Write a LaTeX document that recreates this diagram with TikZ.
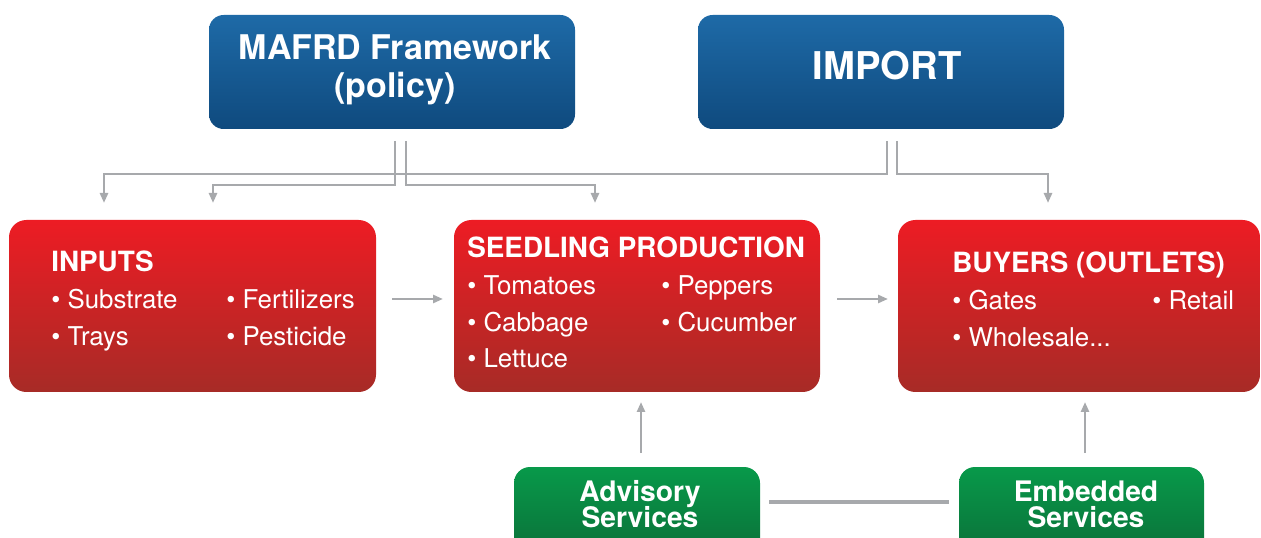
\documentclass[tikz,border=0pt]{standalone}
\usepackage{fontspec}
\setmainfont{TeX Gyre Heros}
\usetikzlibrary{arrows.meta,calc}

\definecolor{blueTop}{HTML}{1E6AA7}
\definecolor{blueBot}{HTML}{0F4A7E}
\definecolor{redTop}{HTML}{ED1C24}
\definecolor{redBot}{HTML}{A72B26}
\definecolor{greenTop}{HTML}{08994A}
\definecolor{greenBot}{HTML}{0B6534}
\definecolor{linkgray}{HTML}{A7A9AC}

\begin{document}
\begin{tikzpicture}[x=0.75pt,y=-0.75pt,
  panel/.style 2 args={rectangle, inner sep=0pt, outer sep=0pt,
    minimum width=#1*0.75pt, minimum height=#2*0.75pt},
  bluebox/.style={top color=blueTop, bottom color=blueBot, rounded corners=11pt},
  redbox/.style={top color=redTop, bottom color=redBot, rounded corners=13pt},
  greenbox/.style={top color=greenTop, bottom color=greenBot, rounded corners=12pt},
  head/.style={anchor=base west, inner sep=0pt, text=white,
    font=\fontsize{20.9}{24}\selectfont\bfseries},
  item/.style={anchor=base west, inner sep=0pt, text=white,
    font=\fontsize{19.4}{23}\selectfont},
  title/.style={anchor=base, inner sep=0pt, text=white,
    font=\fontsize{25.5}{30}\selectfont\bfseries},
  svc/.style={anchor=base, inner sep=0pt, text=white,
    font=\fontsize{21.2}{24}\selectfont\bfseries},
  link/.style={draw=linkgray, line width=1.9pt},
  conn/.style={link, -{Triangle[length=7.5pt,width=6pt]}},
]
\useasboundingbox (0,0) rectangle (1261,538);

% boxes
\node[panel={366}{114}, bluebox] (mafrd) at (392,72) {};
\node[panel={366}{114}, bluebox] (import) at (881,72) {};
\node[panel={367}{172}, redbox] (inputs) at (192.5,306) {};
\node[panel={366}{172}, redbox] (seedling) at (637,306) {};
\node[panel={362}{172}, redbox] (buyers) at (1079,306) {};
\node[panel={246}{113}, greenbox] (advisory) at (637,523.5) {};
\node[panel={245}{113}, greenbox] (embedded) at (1081.5,523.5) {};

% top boxes text
\node[title] (mafrdA) at (395,60) {MAFRD Framework};
\node[title] (mafrdB) at (395,98) {(policy)};
\node[title, font=\fontsize{28.7}{33}\selectfont\bfseries] (importT) at (887,80) {IMPORT};

% inputs
\node[head] (inputsH) at (51,272) {INPUTS};
\node[item] (in1) at (51,309) {• Substrate};
\node[item] (in2) at (226,309) {• Fertilizers};
\node[item] (in3) at (51,346) {• Trays};
\node[item] (in4) at (226,346) {• Pesticide};

% seedling production
\node[head] (seedH) at (467,258) {SEEDLING PRODUCTION};
\node[item] (sd1) at (467,295) {• Tomatoes};
\node[item] (sd2) at (661,295) {• Peppers};
\node[item] (sd3) at (467,332) {• Cabbage};
\node[item] (sd4) at (661,332) {• Cucumber};
\node[item] (sd5) at (467,368) {• Lettuce};

% buyers
\node[head] (buyH) at (952,273) {BUYERS (OUTLETS)};
\node[item] (by1) at (952,310) {• Gates};
\node[item] (by2) at (1152,310) {• Retail};
\node[item] (by3) at (952,347) {• Wholesale...};

% services
\node[svc] (advA) at (640,501) {Advisory};
\node[svc] (advB) at (640,527) {Services};
\node[svc] (embA) at (1086,501) {Embedded};
\node[svc] (embB) at (1086,527) {Services};

% connectors from IMPORT
\draw[conn] ($(import.south)+(6,12)$) |- ($(inputs.north west)+(95,-46)$)
  -- ($(inputs.north west)+(95,-17)$);
\draw[conn] ($(import.south)+(16,12)$) |- ($(buyers.north west)+(150,-46)$)
  -- ($(buyers.north west)+(150,-17)$);

% connectors from MAFRD
\draw[conn] ($(mafrd.south)+(3,12)$) |- ($(inputs.north west)+(204,-35)$)
  -- ($(inputs.north west)+(204,-17)$);
\draw[conn] ($(mafrd.south)+(14,12)$) |- ($(seedling.north west)+(141,-35)$)
  -- ($(seedling.north west)+(141,-17)$);

% flow between the red boxes
\draw[conn] ($(inputs.east)+(16,-7)$) -- ($(seedling.west)+(-11,-7)$);
\draw[conn] ($(seedling.east)+(17,-7)$) -- ($(buyers.west)+(-10,-7)$);

% services feeding upward
\draw[conn] ($(advisory.north)+(4,-14)$) -- ($(seedling.south)+(4,10)$);
\draw[conn] ($(embedded.north)+(3.5,-14)$) -- ($(embedded.north |- buyers.south)+(3.5,10)$);
\draw[link, line width=2.3pt] ($(advisory.north east)+(9,35)$) -- ($(embedded.north west)+(-10,35)$);
\end{tikzpicture}
\end{document}
